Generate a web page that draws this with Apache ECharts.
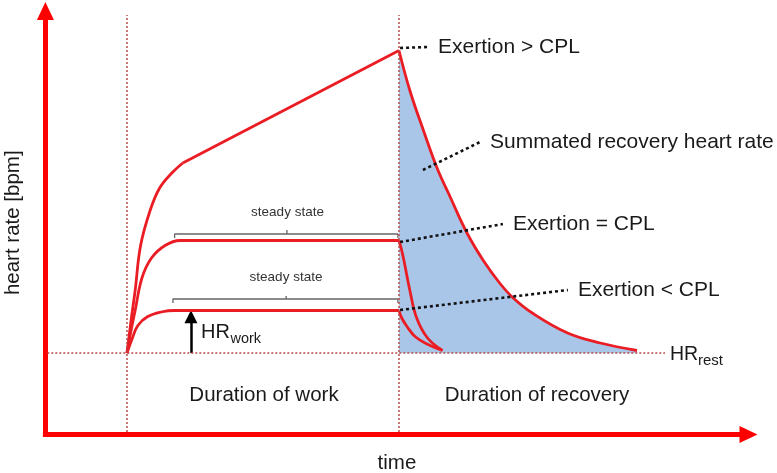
<!DOCTYPE html>
<html>
<head>
<meta charset="utf-8">
<script src="https://cdn.jsdelivr.net/npm/echarts@6/dist/echarts.min.js"></script>
<style>
  html, body { margin: 0; padding: 0; background: #fff; }
  #chart { width: 777px; height: 473px; }
</style>
</head>
<body>
<div id="chart"></div>
<script>
// time in arbitrary units (work phase = 0..100), heart rate in bpm
const restHR = 60;
const workStart = 0, workEnd = 100;

// Exertion > CPL
const aboveRiseT  = [0, 1.5, 3, 5, 8.5, 12, 16.5, 20.5];
const aboveRiseHR = [60, 73, 85, 103, 117, 126, 132, 136];
const aboveRampT  = [20.5, 100];
const aboveRampHR = [136, 181];
const aboveRecT   = [100, 104, 109, 114, 119, 125, 131, 137, 142, 149, 162, 174, 187.5];
const aboveRecHR  = [181, 165, 149, 134, 122, 108, 97, 88, 82, 76, 68, 64, 61];

// Exertion = CPL
const equalWorkT  = [0, 1.5, 3, 5.5, 9, 14, 19.5, 100];
const equalWorkHR = [60, 69, 77, 90, 98, 103, 105, 105];
const equalRecT   = [100, 101, 102, 104, 106.5, 110.5, 116];
const equalRecHR  = [105, 101, 96, 85, 74, 66, 61];

// Exertion < CPL
const belowWorkT  = [0, 2, 4, 7.5, 13, 17.5, 100];
const belowWorkHR = [60, 66, 71, 74.5, 76.5, 77, 77];
const belowRecT   = [100, 101, 103, 106, 110.5, 116];
const belowRecHR  = [77, 74, 70.5, 66.5, 63.5, 61];

// steady state brackets
const upperBracketT  = [17.5, 17.5, 58.8, 58.8, 58.8, 99.6, 99.6];
const upperBracketHR = [106, 107.6, 107.6, 109.2, 107.6, 107.6, 106];
const lowerBracketT  = [16.9, 16.9, 58.5, 58.5, 58.5, 99.6, 99.6];
const lowerBracketHR = [80, 81.6, 81.6, 82.8, 81.6, 81.6, 80];

// pointer lines for the notes
const noteAboveT = [100.4, 110.7], noteAboveHR = [182, 182.4];
const noteSumT   = [108.8, 129.8], noteSumHR   = [133.2, 144.4];
const noteEqualT = [100.4, 138.2], noteEqualHR = [104.4, 111.6];
const noteBelowT = [100.4, 162.1], noteBelowHR = [77.2, 85.2];

// dotted reference lines
const refVertHR = [28.4, 195.2];
const refRestT  = [-29.3, 197.8];
const hrWorkT = 23.5, hrWorkTop = 77;

const font = "'Liberation Sans', Arial, sans-serif";
const red = '#ea1c24';
const txt = '#1a1a1a';

function zip(ts, hs) { return ts.map(function (t, i) { return [t, hs[i]]; }); }

function curve(ts, hs, extra) {
    return Object.assign({
        type: 'line', data: zip(ts, hs), symbol: 'none', silent: true,
        smooth: 0.4,
        lineStyle: { color: red, width: 2.8 }, z: 5
    }, extra || {});
}

function dotted(ts, hs, color, width, z) {
    return {
        type: 'line', data: zip(ts, hs), symbol: 'none', silent: true,
        lineStyle: { color: color, width: width, type: [2, 2] }, z: z
    };
}

function note(ts, hs, text) {
    return {
        type: 'line', data: zip(ts, hs), symbol: 'none', silent: true,
        lineStyle: { color: '#111', width: 2.6, type: [3, 3] }, z: 7,
        endLabel: { show: true, formatter: text, distance: 10, fontSize: 21, fontFamily: font, color: txt }
    };
}

function bracket(ts, hs) {
    return {
        type: 'line', data: zip(ts, hs), symbol: 'none', silent: true,
        lineStyle: { color: '#666', width: 1.3 }, z: 4
    };
}

const chart = echarts.init(document.getElementById('chart'));
chart.setOption({
    backgroundColor: '#fff',
    animation: false,
    grid: { left: 45.4, right: 28.5, top: 11, bottom: 38.5, outerBoundsMode: 'none', containLabel: false },
    xAxis: {
        type: 'value', min: -30, max: 228.5,
        axisLine: {
            show: true, onZero: false, symbol: ['none', 'triangle'], symbolSize: [17, 18],
            lineStyle: { color: '#ff0000', width: 5, cap: 'square' }
        },
        axisTick: { show: false }, axisLabel: { show: false }, splitLine: { show: false },
        name: 'time', nameLocation: 'middle', nameGap: 18,
        nameTextStyle: { fontSize: 20.5, fontFamily: font, color: txt }
    },
    yAxis: {
        type: 'value', min: 27.4, max: 196.8,
        axisLine: {
            show: true, onZero: false, symbol: ['none', 'triangle'], symbolSize: [17, 18],
            lineStyle: { color: '#ff0000', width: 5, cap: 'square' }
        },
        axisTick: { show: false }, axisLabel: { show: false }, splitLine: { show: false },
        name: 'heart rate [bpm]', nameLocation: 'middle', nameGap: 22,
        nameTextStyle: { fontSize: 20.5, fontFamily: font, color: txt }
    },
    series: [
        // summated recovery area under the highest curve
        curve(aboveRecT, aboveRecHR, {
            areaStyle: { color: '#a9c5e8', opacity: 1, origin: restHR }
        }),
        dotted([workStart, workStart], refVertHR, '#b94a48', 1.5, 6),
        dotted([workEnd, workEnd], refVertHR, '#b94a48', 1.5, 6),
        dotted(refRestT, [restHR, restHR], '#b94a48', 1.5, 6),
        curve(aboveRiseT, aboveRiseHR),
        curve(aboveRampT, aboveRampHR, { smooth: false }),
        curve(equalWorkT, equalWorkHR),
        curve(equalRecT, equalRecHR),
        curve(belowWorkT, belowWorkHR),
        curve(belowRecT, belowRecHR),
        bracket(upperBracketT, upperBracketHR),
        bracket(lowerBracketT, lowerBracketHR),
        note(noteAboveT, noteAboveHR, 'Exertion > CPL'),
        note(noteSumT, noteSumHR, 'Summated recovery heart rate'),
        note(noteEqualT, noteEqualHR, 'Exertion = CPL'),
        note(noteBelowT, noteBelowHR, 'Exertion < CPL'),
        {
            type: 'line', data: [], silent: true,
            markLine: {
                silent: true, symbol: ['none', 'triangle'], symbolSize: [13, 13],
                label: { show: false },
                lineStyle: { color: '#000', width: 2.5, type: 'solid' },
                data: [[{ coord: [hrWorkT, restHR] }, { coord: [hrWorkT, hrWorkTop - 2.5] }]]
            },
            z: 8
        }
    ],
    graphic: [
        { type: 'text', x: 287.5, y: 212, style: { text: 'steady state', fontSize: 13.5, fontFamily: font, fill: '#333', align: 'center', verticalAlign: 'middle' } },
        { type: 'text', x: 286, y: 277, style: { text: 'steady state', fontSize: 13.5, fontFamily: font, fill: '#333', align: 'center', verticalAlign: 'middle' } },
        { type: 'text', x: 264, y: 395, style: { text: 'Duration of work', fontSize: 20.5, fontFamily: font, fill: txt, align: 'center', verticalAlign: 'middle' } },
        { type: 'text', x: 537, y: 395, style: { text: 'Duration of recovery', fontSize: 20.5, fontFamily: font, fill: txt, align: 'center', verticalAlign: 'middle' } },
        { type: 'text', x: 201, y: 332, style: { text: 'HR', fontSize: 20, fontFamily: font, fill: txt, align: 'left', verticalAlign: 'middle' } },
        { type: 'text', x: 230.5, y: 338.5, style: { text: 'work', fontSize: 14.5, fontFamily: font, fill: txt, align: 'left', verticalAlign: 'middle' } },
        { type: 'text', x: 670, y: 355, style: { text: 'HR', fontSize: 19.5, fontFamily: font, fill: txt, align: 'left', verticalAlign: 'middle' } },
        { type: 'text', x: 698, y: 360.5, style: { text: 'rest', fontSize: 15, fontFamily: font, fill: txt, align: 'left', verticalAlign: 'middle' } }
    ]
});
</script>
</body>
</html>
